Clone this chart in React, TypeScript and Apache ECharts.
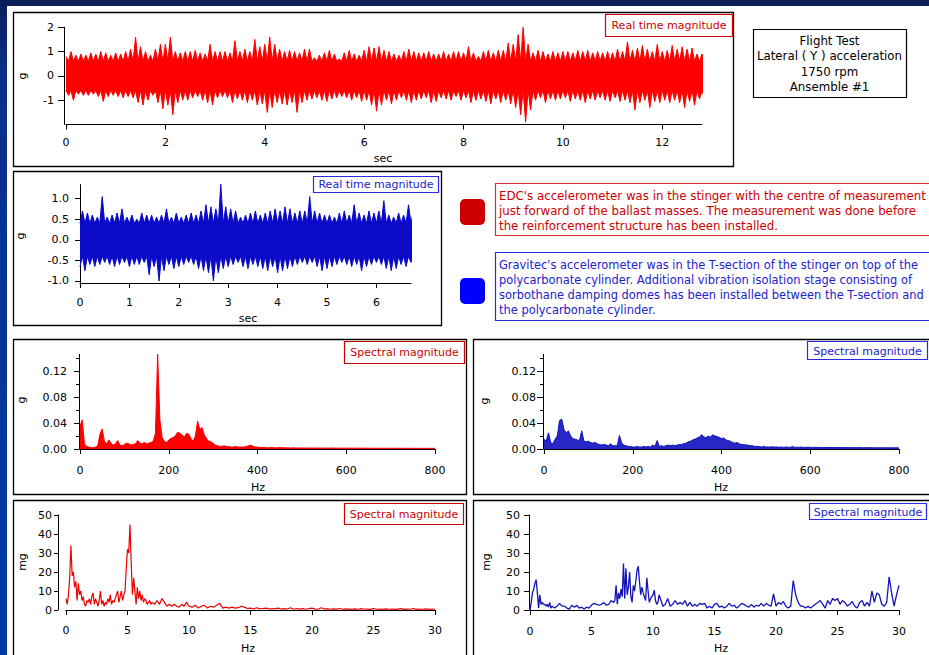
import React, { useEffect, useRef } from "react";
import * as echarts from "echarts";

const FONT = '"DejaVu Sans", Verdana, sans-serif';

// ---- Real time magnitude, EDC (g), peak envelope per 0.1 s bin, t = 0 .. 12.8 s
const edcTimeUpper = [
  0.8, 1.0, 0.85, 0.9, 0.85, 0.95, 0.9, 1.0, 0.95, 0.85,
  0.95, 0.9, 1.0, 1.1, 1.6, 1.2, 1.0, 0.85, 1.1, 1.3,
  1.3, 1.6, 1.0, 0.95, 1.0, 1.0, 1.05, 0.95, 0.9, 1.3,
  1.0, 1.0, 1.0, 0.95, 1.45, 1.0, 1.1, 1.0, 1.5, 1.2,
  1.3, 1.6, 1.3, 1.1, 1.0, 1.05, 1.0, 0.95, 1.1, 1.1,
  0.75, 0.85, 0.95, 1.05, 0.9, 0.7, 0.95, 1.05, 0.9, 0.85,
  1.05, 1.2, 1.15, 1.2, 1.05, 1.0, 0.9, 0.85, 1.0, 1.1,
  1.0, 0.95, 0.95, 1.0, 0.9, 0.9, 1.0, 0.9, 1.0, 1.0,
  0.95, 1.2, 0.95, 0.8, 1.0, 1.05, 0.95, 1.05, 1.05, 1.35,
  1.3, 1.7, 2.0, 1.3, 0.95, 1.05, 1.0, 0.9, 1.0, 0.95,
  1.0, 1.0, 0.95, 1.05, 1.0, 1.05, 0.95, 1.0, 0.95, 1.0,
  0.95, 1.1, 1.0, 1.4, 1.05, 1.15, 1.25, 1.1, 1.0, 1.3,
  1.0, 1.05, 1.25, 1.1, 1.2, 1.1, 1.15, 0.9, 0.9,
];
const edcTimeLower = [
  -0.8, -1.0, -0.75, -0.8, -0.8, -0.75, -0.85, -1.05, -0.85, -0.8,
  -0.85, -0.9, -0.85, -0.9, -1.1, -1.2, -1.0, -0.8, -1.1, -1.35,
  -1.2, -1.6, -1.1, -1.0, -1.0, -0.9, -0.85, -1.0, -1.1, -1.2,
  -0.9, -0.85, -0.9, -1.1, -0.95, -1.0, -1.1, -1.0, -1.2, -1.15,
  -1.5, -1.3, -1.1, -1.15, -1.2, -1.1, -1.5, -1.1, -1.0, -0.95,
  -0.9, -1.0, -1.05, -0.95, -0.9, -0.85, -0.9, -1.0, -0.9, -1.05,
  -1.0, -1.2, -1.45, -1.2, -1.0, -1.15, -1.0, -0.9, -1.0, -1.1,
  -1.0, -0.95, -0.9, -1.1, -1.05, -0.9, -0.95, -1.0, -0.85, -1.0,
  -0.9, -1.1, -1.0, -0.95, -1.05, -1.15, -0.95, -1.1, -1.0, -1.15,
  -1.3, -1.6, -1.9, -1.4, -1.0, -0.9, -1.1, -0.95, -1.0, -0.95,
  -0.9, -1.05, -0.95, -1.0, -1.1, -0.95, -1.0, -0.9, -1.0, -1.05,
  -0.9, -1.05, -1.0, -1.1, -1.4, -1.1, -1.0, -1.3, -1.05, -1.1,
  -1.0, -1.1, -1.0, -1.1, -1.3, -1.05, -1.2, -0.95, -0.95,
];
const edcTimeCore = 0.6; // solid core of the trace

// ---- Real time magnitude, Gravitec (g), peak envelope per 0.1 s bin, t = 0 .. 6.7 s
const grvTimeUpper = [
  0.7, 0.65, 0.6, 0.55, 1.05, 0.55, 0.6, 0.65, 0.75, 0.55,
  0.6, 0.5, 0.65, 0.6, 0.6, 0.55, 0.6, 0.75, 0.55, 0.65,
  0.55, 0.6, 0.65, 0.6, 0.7, 0.85, 0.8, 0.75, 1.35, 0.8,
  0.75, 0.7, 0.55, 0.6, 0.65, 0.7, 0.6, 0.65, 0.7, 0.75,
  0.7, 0.8, 0.75, 0.65, 0.7, 0.7, 1.05, 0.7, 0.65, 0.6,
  0.6, 0.55, 0.65, 0.7, 0.6, 0.85, 0.65, 0.6, 0.7, 0.65,
  0.7, 0.95, 0.6, 0.55, 0.65, 0.6, 0.85, 0.7,
];
const grvTimeLower = [
  -0.65, -0.75, -0.6, -0.65, -0.6, -0.55, -0.6, -0.65, -0.6, -0.55,
  -0.65, -0.6, -0.6, -0.55, -0.85, -0.65, -1.0, -0.75, -0.6, -0.7,
  -0.65, -0.6, -0.55, -0.6, -0.7, -0.75, -0.8, -1.0, -0.8, -0.7,
  -0.65, -0.6, -0.55, -0.65, -0.7, -0.6, -0.65, -0.7, -0.75, -0.65,
  -0.8, -0.75, -0.7, -0.65, -0.6, -0.55, -0.6, -0.55, -0.65, -0.75,
  -0.7, -0.65, -0.6, -0.55, -0.6, -0.65, -0.6, -0.75, -0.65, -0.6,
  -0.55, -0.6, -0.7, -0.75, -0.7, -0.6, -0.65, -0.55,
];
const grvTimeCore = 0.4;

// ---- Spectral magnitude 0..800 Hz (g), every 5 Hz
const edcSpectrum = [
  0.035, 0.045, 0.008, 0.004, 0.003, 0.002, 0.002, 0.003, 0.005, 0.023, 0.031, 0.012, 0.008, 0.014, 0.009, 0.006, 0.008, 0.013, 0.006, 0.005,
  0.007, 0.009, 0.008, 0.006, 0.007, 0.008, 0.013, 0.009, 0.008, 0.010, 0.008, 0.009, 0.010, 0.012, 0.024, 0.146, 0.045, 0.018, 0.012, 0.010,
  0.014, 0.016, 0.018, 0.020, 0.026, 0.024, 0.022, 0.018, 0.024, 0.023, 0.016, 0.012, 0.020, 0.043, 0.030, 0.033, 0.022, 0.016, 0.012, 0.011,
  0.009, 0.006, 0.005, 0.004, 0.004, 0.005, 0.004, 0.004, 0.003, 0.003, 0.004, 0.003, 0.003, 0.003, 0.003, 0.004, 0.005, 0.006, 0.004, 0.003,
  0.003, 0.0025, 0.002, 0.0025, 0.002, 0.002, 0.0025, 0.002, 0.0018, 0.002, 0.0022, 0.0018, 0.002, 0.0017, 0.0019, 0.0016, 0.0018, 0.0016, 0.0015, 0.0017,
  0.0015, 0.0016, 0.0014, 0.0016, 0.0015, 0.0014, 0.0015, 0.0016, 0.0014, 0.0013, 0.0015, 0.0014, 0.0013, 0.0014, 0.0015, 0.0013, 0.0014, 0.0013, 0.0012, 0.0014,
  0.0013, 0.0014, 0.0012, 0.0013, 0.0014, 0.0012, 0.0013, 0.0012, 0.0014, 0.0012, 0.0013, 0.0012, 0.0011, 0.0013, 0.0012, 0.0011, 0.0012, 0.0013, 0.0011, 0.0012,
  0.0011, 0.0012, 0.0011, 0.0012, 0.0010, 0.0011, 0.0012, 0.0011, 0.0010, 0.0011, 0.0012, 0.0010, 0.0011, 0.0010, 0.0011, 0.0010, 0.0011, 0.0010, 0.0011, 0.0010,
  0.0010,
];
const grvSpectrum = [
  0.015, 0.012, 0.025, 0.010, 0.008, 0.015, 0.020, 0.044, 0.046, 0.030, 0.025, 0.028, 0.020, 0.016, 0.015, 0.014, 0.013, 0.028, 0.012, 0.011,
  0.012, 0.010, 0.009, 0.010, 0.008, 0.007, 0.006, 0.007, 0.006, 0.005, 0.008, 0.005, 0.005, 0.005, 0.021, 0.009, 0.006, 0.005, 0.004, 0.004,
  0.003, 0.003, 0.004, 0.003, 0.003, 0.004, 0.003, 0.004, 0.003, 0.006, 0.004, 0.013, 0.004, 0.005, 0.004, 0.005, 0.006, 0.005, 0.006, 0.005,
  0.006, 0.007, 0.007, 0.008, 0.009, 0.011, 0.012, 0.014, 0.015, 0.017, 0.018, 0.022, 0.019, 0.017, 0.020, 0.018, 0.022, 0.020, 0.019, 0.018,
  0.016, 0.017, 0.014, 0.013, 0.012, 0.010, 0.009, 0.010, 0.008, 0.007, 0.007, 0.006, 0.006, 0.005, 0.005, 0.004, 0.004, 0.004, 0.003, 0.004,
  0.003, 0.003, 0.003, 0.0035, 0.003, 0.003, 0.0028, 0.003, 0.0025, 0.003, 0.0028, 0.0025, 0.004, 0.0025, 0.0028, 0.0025, 0.003, 0.0025, 0.0024, 0.0028,
  0.0025, 0.0024, 0.0026, 0.0023, 0.0025, 0.0022, 0.0024, 0.0023, 0.0025, 0.0022, 0.0023, 0.0022, 0.0024, 0.0021, 0.0022, 0.0023, 0.0021, 0.0022, 0.002, 0.0022,
  0.0021, 0.002, 0.0022, 0.002, 0.0021, 0.0019, 0.002, 0.0021, 0.0019, 0.002, 0.0019, 0.0018, 0.002, 0.0019, 0.0018, 0.0019, 0.0018, 0.0019, 0.0018, 0.0018,
  0.0017,
];

// ---- Spectral magnitude 0..30 Hz (mg), EDC
const edcLow01 = [ // 0.0 .. 7.0 Hz, step 0.1
  6, 3, 8, 17, 34, 18, 20, 12, 15, 5,
  14, 8, 10, 5, 7, 3, 2, 5, 4, 6,
  3, 7, 9, 3, 6, 4, 2, 5, 10, 3,
  5, 2, 4, 3, 6, 4, 8, 3, 5, 4,
  6, 8, 10, 4, 7, 10, 5, 8, 10, 22,
  32, 30, 45, 25, 8, 17, 10, 3, 12, 6,
  10, 5, 8, 4, 6, 5, 3, 4, 5, 3, 4,
];
const edcLow02 = [3, 5, 3, 6, 4, 2, 3, 2, 3, 2, 1.5, 3, 2, 4, 2]; // 7.2 .. 10.0, step 0.2
const edcLow025 = [ // 10.25 .. 30.0, step 0.25
  1.5, 2.5, 1, 2, 2.5, 1, 2, 1.5, 2.5, 3.5, 1, 1.5, 1, 1.5, 1, 1.2, 2, 1.5, 0.8, 1,
  0.5, 1.2, 0.6, 0.8, 1, 0.5, 0.8, 0.6, 1, 0.5, 0.7, 0.5, 1.2, 0.4, 0.8, 0.5, 0.7, 0.4, 0.8, 1,
  0.5, 0.4, 1.2, 0.5, 0.7, 0.4, 0.6, 0.5, 0.8, 0.4, 0.6, 0.5, 0.3, 0.6, 0.4, 0.7, 0.4, 0.5, 0.3, 0.8,
  0.4, 0.5, 0.3, 0.6, 0.4, 0.5, 0.3, 0.5, 0.7, 0.3, 0.5, 0.4, 0.8, 0.3, 0.5, 0.4, 0.6, 0.3, 0.5, 0.4,
];

// ---- Spectral magnitude 0..30 Hz (mg), Gravitec
const grvLowA = [0, 4, 9, 11, 14, 16, 9, 1, 8, 3, 4, 3, 3, 2, 3, 1.5, 4, 1, 2, 1.5, 1]; // 0.0 .. 2.0, step 0.1
const grvLowB = [2, 3.5, 2, 2, 1, 0.5, 2.5, 1.5, 2.5, 1, 1.5, 0.5, 1.5, 1, 2.5, 3.5, 3, 2.5, 3, 4, 2.5, 3, 5, 4]; // 2.2 .. 6.8, step 0.2
const grvLowC = [ // 6.9 .. 10.8, step 0.1
  5, 13, 3, 9, 6, 11, 7, 24.5, 6, 22, 8, 12, 20, 7, 4, 13, 10, 15, 21, 23,
  15, 8, 12, 9, 7, 5, 17, 10, 4, 6, 7, 8, 10.5, 5, 3, 4, 8, 6, 4, 2,
];
const grvLowD = [ // 11.0 .. 30.0, step 0.2
  3, 6, 2, 3, 5, 3, 4, 3, 5, 2,
  4, 2, 3, 2, 3.5, 3, 3.5, 1, 2, 1,
  3, 3.5, 1.5, 2, 1, 2, 3.5, 2, 2.5, 1,
  2, 3.5, 3, 2, 1.5, 3, 1.5, 2.5, 2, 3.5,
  2, 3.5, 2.5, 2, 8.5, 2, 4, 3, 4.5, 2,
  1, 2, 15.5, 8, 4, 2, 2, 1, 2, 1,
  2, 3, 4, 5, 3, 1, 5, 3, 6, 5,
  6, 3, 5, 4, 2, 3, 4.5, 2, 1, 4,
  5, 2, 4, 2, 10, 4, 9, 8, 3, 2,
  4, 17.5, 9, 2, 8, 13,
];

// ---- tick values
const ticksTopX = [0, 2, 4, 6, 8, 10, 12];
const ticksTopY = [-1, 0, 1, 2];
const ticksMidX = [0, 1, 2, 3, 4, 5, 6];
const ticksMidY = [-1, -0.5, 0, 0.5, 1];
const ticksSpecX = [0, 200, 400, 600, 800];
const ticksSpecY = [0, 0.04, 0.08, 0.12];
const ticksSpecYMinor = [0.02, 0.06, 0.1, 0.14];
const ticksLowX = [0, 5, 10, 15, 20, 25, 30];
const ticksLowY = [0, 10, 20, 30, 40, 50];

const edcNote = [
  "EDC's accelerometer was in the stinger with the centre of measurement",
  "just forward of the ballast masses. The measurement was done before",
  "the reinforcement structure has been installed.",
];
const grvNote = [
  "Gravitec's accelerometer was in the T-section of the stinger on top of the",
  "polycarbonate cylinder. Additional vibration isolation stage consisting of",
  "sorbothane damping domes has been installed between the T-section and",
  "the polycarbonate cylinder.",
];
const flightNote = ["Flight Test", "Lateral ( Y ) acceleration", "1750 rpm", "Ansemble #1"];

// peaks at each bin, falling back to the solid core level between bins
function spiky(peaks: number[], core: number, step: number, shift: number) {
  const out: number[][] = [];
  peaks.forEach((p, i) => {
    const t = i * step;
    if (shift) {
      out.push([+t.toFixed(3), core]);
      out.push([+(t + step / 2).toFixed(3), p]);
    } else {
      out.push([+t.toFixed(3), p]);
      out.push([+(t + step / 2).toFixed(3), core]);
    }
  });
  return out;
}
function seg(start: number, step: number, vals: number[]) {
  return vals.map((v, i) => [+(start + i * step).toFixed(3), v]);
}

const RED = "#ff0000";
const DRED = "#cc0000";
const BLUE = "#0a0ac8";
const DBLUE = "#2222cc";

function xAx(grid: number, min: number, max: number, ticks: number[], margin: number, fmt?: (v: number) => string) {
  return {
    type: "value", gridIndex: grid, min, max,
    axisLine: { show: true, onZero: false, lineStyle: { color: "#000", width: 1 } },
    axisTick: { show: true, length: 5, customValues: ticks, lineStyle: { color: "#000", width: 1 } },
    axisLabel: {
      customValues: ticks, margin, fontSize: 11, color: "#000", fontFamily: FONT,
      formatter: fmt ? (v: number) => fmt(v) : (v: number) => String(v),
    },
    splitLine: { show: false },
  };
}
function yAx(grid: number, min: number, max: number, ticks: number[], margin: number, offset: number, tickLen: number, fmt?: (v: number) => string) {
  return {
    type: "value", gridIndex: grid, min, max, position: "left", offset,
    axisLine: { show: true, onZero: false, lineStyle: { color: "#000", width: 1 } },
    axisTick: { show: true, length: tickLen, customValues: ticks, lineStyle: { color: "#000", width: 1 } },
    axisLabel: {
      customValues: ticks, margin, fontSize: 11, color: "#000", fontFamily: FONT,
      formatter: fmt ? (v: number) => fmt(v) : (v: number) => String(v),
    },
    splitLine: { show: false },
  };
}
function yMinor(grid: number, min: number, max: number, ticks: number[], offset: number) {
  return {
    type: "value", gridIndex: grid, min, max, position: "left", offset,
    axisLine: { show: false, onZero: false },
    axisTick: { show: true, length: 3, customValues: ticks, lineStyle: { color: "#000", width: 1 } },
    axisLabel: { show: false },
    splitLine: { show: false },
  };
}

function txt(x: number, y: number, text: string, fill: string, size: number, align = "left", rotation = 0, z = 10) {
  return {
    type: "text", x, y, rotation, z,
    style: {
      text, fill, font: `${size}px ${FONT}`,
      align, verticalAlign: "middle", textAlign: align, textVerticalAlign: "middle",
    },
  };
}
function box(x: number, y: number, w: number, h: number, stroke: string, lw = 1, z = 1, fill = "#fff") {
  return { type: "rect", z, shape: { x, y, width: w, height: h }, style: { fill, stroke, lineWidth: lw } };
}
// filled half-band; origin slightly across zero so the two halves overlap without a seam
function band(xi: number, data: number[][], color: string, origin: number) {
  return {
    type: "line", xAxisIndex: xi, yAxisIndex: xi, showSymbol: false, silent: true,
    data, lineStyle: { color, width: 1 }, areaStyle: { color, opacity: 1, origin },
  };
}

export default function App() {
  const ref = useRef<HTMLDivElement>(null);
  useEffect(() => {
    if (!ref.current) return;
    const chart = echarts.init(ref.current, null, { renderer: "svg" });
    const graphics: any[] = [
      { type: "rect", z: 0, shape: { x: 0, y: 0, width: 929, height: 6 }, style: { fill: "#0b1f58" } },
      {
        type: "rect", z: 0, shape: { x: 0, y: 0, width: 7, height: 655 },
        style: {
          fill: new echarts.graphic.LinearGradient(0, 0, 0, 1, [
            { offset: 0, color: "#0b1f58" },
            { offset: 0.12, color: "#0a2f8a" },
            { offset: 1, color: "#003aa6" },
          ]),
        },
      },
      // panel frames
      box(13.5, 12.5, 720, 154, "#000", 1.3, 1, "transparent"),
      box(13.5, 171.5, 428, 154, "#000", 1.3, 1, "transparent"),
      box(13.5, 339.5, 453, 155, "#000", 1.3, 1, "transparent"),
      box(473.5, 339.5, 470, 155, "#000", 1.3, 1, "transparent"),
      box(13.5, 500.5, 453, 160, "#000", 1.3, 1, "transparent"),
      box(473.5, 500.5, 470, 160, "#000", 1.3, 1, "transparent"),
      // flight test box
      box(753.5, 29.5, 153, 68, "#000", 1.2, 5),
      ...flightNote.map((s, i) => txt(829.5, 41 + i * 15.4, s, "#000", 11.8, "center")),
      // series label boxes
      box(605.5, 14.5, 127, 22, DRED, 1.2, 5),
      txt(669, 25.5, "Real time magnitude", DRED, 11, "center"),
      box(313.5, 176.5, 125, 16, "#2a2ae0", 1.2, 5),
      txt(376, 184.5, "Real time magnitude", DBLUE, 11, "center"),
      box(344.5, 341.5, 120, 22, DRED, 1.2, 5),
      txt(404.5, 352.5, "Spectral magnitude", DRED, 11, "center"),
      box(807.5, 341.5, 120, 18, "#2a2ae0", 1.2, 5),
      txt(867.5, 351, "Spectral magnitude", DBLUE, 11, "center"),
      box(344.5, 503.5, 119, 21, DRED, 1.2, 5),
      txt(404, 514, "Spectral magnitude", DRED, 11, "center"),
      box(809.5, 503.5, 117, 16, "#2a2ae0", 1.2, 5),
      txt(868, 512, "Spectral magnitude", DBLUE, 11, "center"),
      // notes
      { type: "rect", z: 5, shape: { x: 460, y: 199, width: 25, height: 26, r: 5 }, style: { fill: "#cc0000" } },
      { type: "rect", z: 5, shape: { x: 460, y: 278, width: 25, height: 26, r: 5 }, style: { fill: "#0000ff" } },
      box(495.5, 183.5, 450, 52, "#d03030", 1.2, 4),
      ...edcNote.map((s, i) => txt(499, 195.5 + i * 15, s, DRED, 11.8)),
      box(495.5, 252.5, 450, 68, "#2a2ae0", 1.2, 4),
      ...grvNote.map((s, i) => txt(499, 264.5 + i * 15, s, DBLUE, 11.45)),
      // axis titles
      txt(383, 158, "sec", "#000", 11, "center"),
      txt(248, 318.5, "sec", "#000", 11, "center"),
      txt(258, 487.5, "Hz", "#000", 11, "center"),
      txt(721, 487.5, "Hz", "#000", 11, "center"),
      txt(248, 648, "Hz", "#000", 11, "center"),
      txt(721, 648, "Hz", "#000", 11, "center"),
      txt(22, 76, "g", "#000", 11, "center", Math.PI / 2),
      txt(20, 236, "g", "#000", 11, "center", Math.PI / 2),
      txt(21, 400, "g", "#000", 11, "center", Math.PI / 2),
      txt(484, 401, "g", "#000", 11, "center", Math.PI / 2),
      txt(22, 562, "mg", "#000", 11, "center", Math.PI / 2),
      txt(486, 562, "mg", "#000", 11, "center", Math.PI / 2),
    ];

    const option: any = {
      animation: false,
      backgroundColor: "#ffffff",
      grid: [
        { left: 66, top: 27.3, width: 636, height: 97.2 },
        { left: 80, top: 184.6, width: 331, height: 98.4 },
        { left: 80, top: 354.3, width: 355, height: 94.7 },
        { left: 544, top: 354.3, width: 355, height: 94.7 },
        { left: 66, top: 515, width: 369, height: 95 },
        { left: 530, top: 515, width: 369, height: 95 },
      ],
      xAxis: [
        xAx(0, 0, 12.8, ticksTopX, 12),
        xAx(1, 0, 6.7, ticksMidX, 14),
        xAx(2, 0, 800, ticksSpecX, 16),
        xAx(3, 0, 800, ticksSpecX, 16),
        xAx(4, 0, 30, ticksLowX, 15),
        xAx(5, 0, 30, ticksLowX, 16),
      ],
      yAxis: [
        yAx(0, -2, 2, ticksTopY, 10, 2, 6),
        yAx(1, -1.05, 1.34, ticksMidY, 11, 0, 5, (v) => v.toFixed(1)),
        yAx(2, 0, 0.146, ticksSpecY, 12, 1, 5, (v) => v.toFixed(2)),
        yAx(3, 0, 0.146, ticksSpecY, 7, 1, 6, (v) => v.toFixed(2)),
        yAx(4, 0, 50, ticksLowY, 6, 8, 4),
        yAx(5, 0, 50, ticksLowY, 9, 1, 5),
        yMinor(2, 0, 0.146, ticksSpecYMinor, 1),
        yMinor(3, 0, 0.146, ticksSpecYMinor, 1),
      ],
      series: [
        band(0, spiky(edcTimeUpper, edcTimeCore, 0.1, 0), RED, -0.1),
        band(0, spiky(edcTimeLower, -edcTimeCore, 0.1, 1), RED, 0.1),
        band(1, spiky(grvTimeUpper, grvTimeCore, 0.1, 1), BLUE, -0.1),
        band(1, spiky(grvTimeLower, -grvTimeCore, 0.1, 0), BLUE, 0.1),
        {
          type: "line", xAxisIndex: 2, yAxisIndex: 2, showSymbol: false, silent: true,
          data: seg(0, 5, edcSpectrum),
          lineStyle: { color: RED, width: 1 },
          areaStyle: { color: RED, opacity: 1 },
        },
        {
          type: "line", xAxisIndex: 3, yAxisIndex: 3, showSymbol: false, silent: true,
          data: seg(0, 5, grvSpectrum),
          lineStyle: { color: "#1010c0", width: 1 },
          areaStyle: { color: "#1010c0", opacity: 0.9 },
        },
        {
          type: "line", xAxisIndex: 4, yAxisIndex: 4, showSymbol: false, silent: true,
          data: [...seg(0, 0.1, edcLow01), ...seg(7.2, 0.2, edcLow02), ...seg(10.25, 0.25, edcLow025)],
          lineStyle: { color: "#ee0000", width: 1.2 },
        },
        {
          type: "line", xAxisIndex: 5, yAxisIndex: 5, showSymbol: false, silent: true,
          data: [...seg(0, 0.1, grvLowA), ...seg(2.2, 0.2, grvLowB), ...seg(6.9, 0.1, grvLowC), ...seg(11, 0.2, grvLowD)],
          lineStyle: { color: "#1414b4", width: 1.3 },
        },
      ],
      graphic: { elements: graphics },
    };
    chart.setOption(option);
    return () => chart.dispose();
  }, []);
  return <div ref={ref} style={{ position: "absolute", left: 0, top: 0, width: 929, height: 655 }} />;
}
